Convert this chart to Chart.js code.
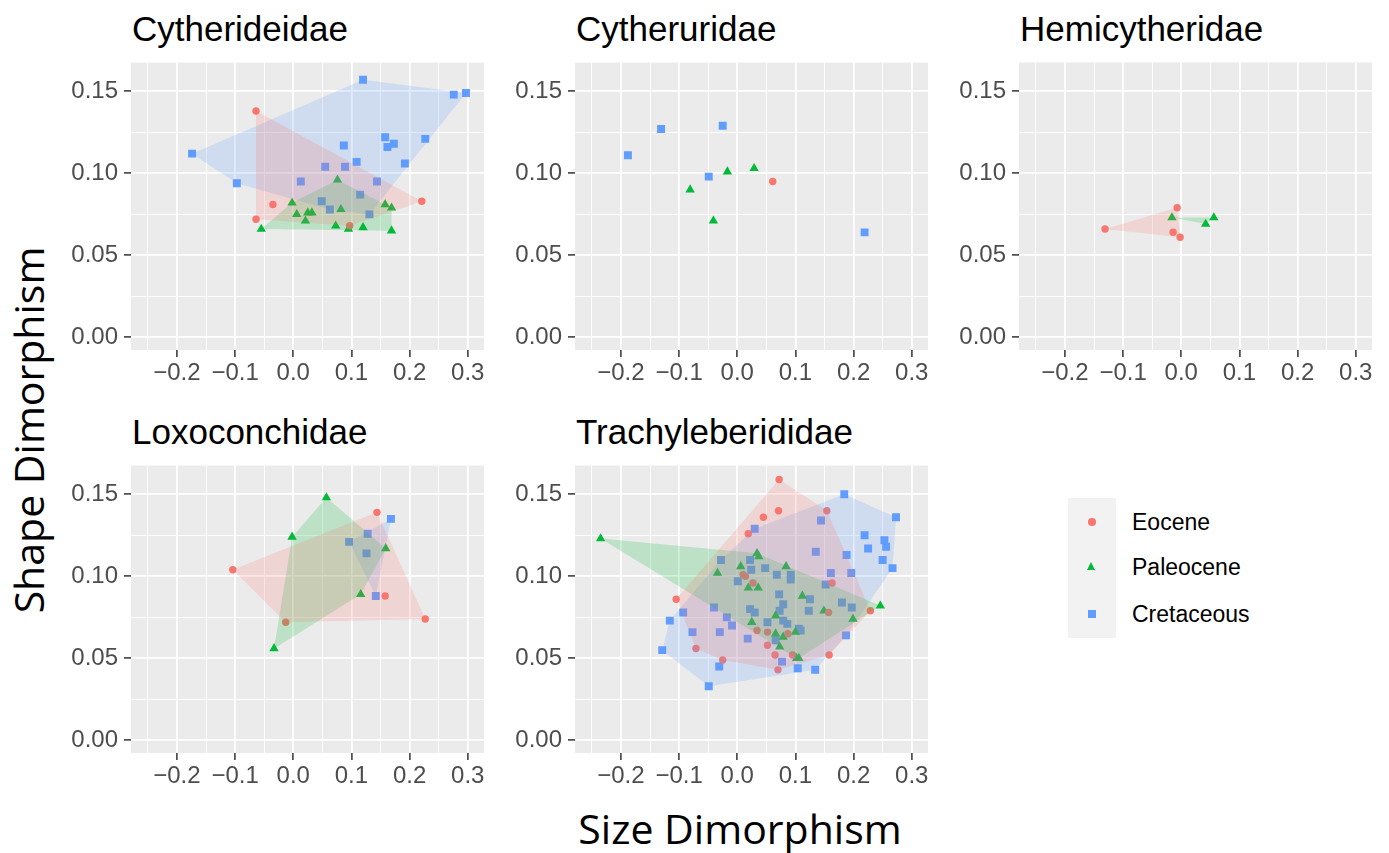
<!DOCTYPE html>
<html>
<head>
<meta charset="utf-8">
<title>Dimorphism by family</title>
<script src="https://cdn.jsdelivr.net/npm/chart.js"></script>
<style>
  body { margin: 0; width: 1389px; height: 853px; overflow: hidden; position: relative; background: #fff;
         font-family: "Liberation Sans", Arial, sans-serif; }
  canvas.panel { position: absolute; }
  .strip { position: absolute; font-size: 35px; line-height: 35px; color: #000; white-space: nowrap; }
  .axis-title { position: absolute; font-family: "Open Sans", "Noto Sans", sans-serif; font-size: 41px;
                line-height: 41px; color: #000; white-space: nowrap; }
  #legend-keys { position: absolute; left: 1068px; top: 498px; width: 48px; height: 140px; background: #F2F2F2; }
  .key { position: absolute; }
  .key-label { position: absolute; left: 1132px; font-size: 23px; line-height: 24px; color: #000; }
</style>
</head>
<body>

<div id="legend-keys"></div>

<script>
// Families (facets) and periods (colour groups)
const families = ["Cytherideidae", "Cytheruridae", "Hemicytheridae", "Loxoconchidae", "Trachyleberididae"];
const periods = ["Eocene", "Paleocene", "Cretaceous"];
const hullFamilies = ["Cytherideidae", "Hemicytheridae", "Loxoconchidae", "Trachyleberididae"];

// axis breaks
const sizeBreaks = [-0.2, -0.1, 0.0, 0.1, 0.2, 0.3];
const sizeMinorBreaks = [-0.25, -0.15, -0.05, 0.05, 0.15, 0.25];
const shapeBreaks = [0.00, 0.05, 0.10, 0.15];
const shapeMinorBreaks = [0.025, 0.075, 0.125];

// [size dimorphism, shape dimorphism]
const cytherideidaeEocene = [[-0.064, 0.138], [-0.035, 0.081], [-0.064, 0.072], [0.221, 0.083], [0.097, 0.068]];
const cytherideidaePaleocene = [[0.076, 0.096], [-0.002, 0.082], [0.006, 0.075], [0.025, 0.076], [0.032, 0.076],
  [0.021, 0.071], [0.082, 0.078], [0.158, 0.081], [0.169, 0.079], [-0.055, 0.066], [0.073, 0.068], [0.095, 0.066],
  [0.120, 0.067], [0.169, 0.065]];
const cytherideidaeCretaceous = [[0.120, 0.157], [0.276, 0.148], [0.297, 0.149], [-0.174, 0.112], [-0.097, 0.094],
  [0.158, 0.122], [0.162, 0.116], [0.173, 0.118], [0.227, 0.121], [0.087, 0.117], [0.192, 0.106], [0.109, 0.107],
  [0.055, 0.104], [0.089, 0.104], [0.013, 0.095], [0.144, 0.095], [0.115, 0.087], [0.049, 0.083], [0.063, 0.078],
  [0.131, 0.075]];

const cytheruridaeEocene = [[0.061, 0.095]];
const cytheruridaePaleocene = [[-0.017, 0.101], [0.029, 0.103], [-0.081, 0.090], [-0.041, 0.071]];
const cytheruridaeCretaceous = [[-0.131, 0.127], [-0.025, 0.129], [-0.188, 0.111], [-0.049, 0.098], [0.219, 0.064]];

const hemicytheridaeEocene = [[-0.131, 0.066], [-0.007, 0.079], [-0.014, 0.064], [-0.002, 0.061]];
const hemicytheridaePaleocene = [[-0.016, 0.073], [0.042, 0.069], [0.056, 0.073]];
const hemicytheridaeCretaceous = [];

const loxoconchidaeEocene = [[0.144, 0.139], [-0.104, 0.104], [0.158, 0.088], [0.227, 0.074], [-0.013, 0.072]];
const loxoconchidaePaleocene = [[0.057, 0.148], [-0.002, 0.124], [0.159, 0.117], [0.116, 0.089], [-0.033, 0.056]];
const loxoconchidaeCretaceous = [[0.168, 0.135], [0.128, 0.126], [0.096, 0.121], [0.126, 0.114], [0.142, 0.088]];

const trachyleberididaeEocene = [[0.072, 0.159], [0.154, 0.140], [0.045, 0.136], [0.071, 0.140], [0.019, 0.126],
  [0.010, 0.101], [0.014, 0.100], [0.027, 0.096], [0.163, 0.096], [-0.105, 0.086], [0.157, 0.078], [0.229, 0.079],
  [0.034, 0.067], [0.052, 0.066], [0.087, 0.065], [0.052, 0.058], [-0.071, 0.056], [-0.025, 0.049], [0.065, 0.052],
  [0.095, 0.052], [0.158, 0.052], [0.070, 0.043]];
const trachyleberididaePaleocene = [[-0.235, 0.123], [0.034, 0.114], [0.037, 0.112], [0.084, 0.106], [0.006, 0.106],
  [-0.034, 0.102], [0.019, 0.093], [0.036, 0.093], [0.112, 0.088], [0.246, 0.082], [0.066, 0.076], [0.149, 0.079],
  [0.199, 0.074], [0.025, 0.072], [0.066, 0.065], [0.079, 0.063], [0.100, 0.066], [0.073, 0.057], [0.102, 0.050],
  [0.106, 0.050]];
const trachyleberididaeCretaceous = [[0.184, 0.150], [0.144, 0.134], [0.273, 0.136], [0.030, 0.129], [0.219, 0.125],
  [0.253, 0.122], [0.256, 0.118], [0.225, 0.117], [0.135, 0.115], [0.188, 0.113], [0.250, 0.110], [0.267, 0.105],
  [-0.028, 0.110], [0.022, 0.110], [0.024, 0.104], [0.048, 0.105], [0.068, 0.101], [0.092, 0.101], [0.092, 0.098],
  [0.161, 0.102], [0.196, 0.102], [0.152, 0.095], [0.001, 0.097], [0.072, 0.089], [0.125, 0.086], [0.079, 0.083],
  [0.180, 0.084], [0.197, 0.081], [0.073, 0.079], [0.123, 0.079], [-0.040, 0.081], [0.022, 0.080], [0.030, 0.078],
  [-0.093, 0.078], [-0.116, 0.073], [-0.018, 0.075], [0.079, 0.073], [0.086, 0.071], [0.052, 0.072], [0.106, 0.068],
  [0.109, 0.067], [-0.009, 0.070], [-0.030, 0.066], [-0.077, 0.066], [0.018, 0.062], [0.187, 0.064], [0.066, 0.061],
  [-0.129, 0.055], [-0.031, 0.045], [0.077, 0.048], [0.104, 0.044], [0.134, 0.043], [-0.049, 0.033]];

const familyData = [
  [cytherideidaeEocene, cytherideidaePaleocene, cytherideidaeCretaceous],
  [cytheruridaeEocene, cytheruridaePaleocene, cytheruridaeCretaceous],
  [hemicytheridaeEocene, hemicytheridaePaleocene, hemicytheridaeCretaceous],
  [loxoconchidaeEocene, loxoconchidaePaleocene, loxoconchidaeCretaceous],
  [trachyleberididaeEocene, trachyleberididaePaleocene, trachyleberididaeCretaceous]
];

// styling
const colours = ["#F8766D", "#00BA38", "#619CFF"];
const hullColours = ["rgba(248,118,109,0.2)", "rgba(0,186,56,0.2)", "rgba(97,156,255,0.2)"];
const pointStyles = ["circle", "triangle", "rect"];
const pointSizes = [3.7, 5.4, 5.6];

const plotLefts = [131, 575, 1019, 131, 575];
const plotTops = [62, 62, 62, 465, 465];
const plotW = 353, plotH = 288;
const yAxisW = 62, xAxisH = 40, padTop = 5, padRight = 10;

function convexHull(pts) {
  const p = pts.map(([x, y]) => ({x, y})).sort((a, b) => a.x - b.x || a.y - b.y);
  if (p.length < 3) return p;
  const cross = (o, a, b) => (a.x - o.x) * (b.y - o.y) - (a.y - o.y) * (b.x - o.x);
  const lower = [], upper = [];
  for (const q of p) {
    while (lower.length >= 2 && cross(lower[lower.length - 2], lower[lower.length - 1], q) <= 0) lower.pop();
    lower.push(q);
  }
  for (const q of p.slice().reverse()) {
    while (upper.length >= 2 && cross(upper[upper.length - 2], upper[upper.length - 1], q) <= 0) upper.pop();
    upper.push(q);
  }
  return lower.slice(0, -1).concat(upper.slice(0, -1));
}

const isIn = (v, list) => list.some(b => Math.abs(b - v) < 1e-9);

const panelBg = {
  id: "panelBg",
  beforeDraw(chart) {
    const {ctx, chartArea: a} = chart;
    ctx.save();
    ctx.fillStyle = "#EBEBEB";
    ctx.fillRect(a.left, a.top, a.right - a.left, a.bottom - a.top);
    ctx.restore();
  }
};

function axisOptions(breaks, minor, min, max, fmt, isX) {
  return {
    type: "linear",
    position: isX ? "bottom" : "left",
    min: min,
    max: max,
    afterBuildTicks: (scale) => {
      scale.ticks = breaks.concat(minor).sort((a, b) => a - b).map(v => ({value: v}));
    },
    afterFit: (scale) => {
      // fixed axis sizes so that every panel lines up
      if (isX) scale.height = xAxisH; else scale.width = yAxisW;
      scale.paddingTop = 0;
      scale.paddingBottom = 0;
      scale.paddingLeft = 0;
      scale.paddingRight = 0;
    },
    border: {display: false},
    grid: {
      color: "#FFFFFF",
      lineWidth: (c) => (c.tick && isIn(c.tick.value, breaks)) ? 1.8 : 0.9,
      tickLength: 7,
      tickWidth: (c) => (c.tick && isIn(c.tick.value, breaks)) ? 1.5 : 0,
      tickColor: (c) => (c.tick && isIn(c.tick.value, breaks)) ? "#333333" : "rgba(0,0,0,0)"
    },
    ticks: {
      autoSkip: false,
      maxRotation: 0,
      padding: isX ? 2 : 6,
      color: "#4D4D4D",
      font: {family: "Liberation Sans", size: 24},
      callback: (value) => isIn(value, breaks) ? fmt(value) : ""
    }
  };
}

const fmtSize = v => (v < -1e-9 ? "\u2212" : "") + Math.abs(v).toFixed(1);
const fmtShape = v => v.toFixed(2);

families.forEach((family, f) => {
  const canvas = document.createElement("canvas");
  canvas.className = "panel";
  canvas.width = yAxisW + plotW + padRight;
  canvas.height = padTop + plotH + xAxisH;
  canvas.style.left = (plotLefts[f] - yAxisW) + "px";
  canvas.style.top = (plotTops[f] - padTop) + "px";
  document.body.appendChild(canvas);

  const title = document.createElement("div");
  title.className = "strip";
  title.textContent = family;
  title.style.left = (plotLefts[f] + 1) + "px";
  title.style.top = (plotTops[f] - 51) + "px";
  document.body.appendChild(title);

  const datasets = [];
  periods.forEach((period, p) => {
    const pts = familyData[f][p];
    if (!pts.length) return;
    datasets.push({
      label: period,
      data: pts.map(([x, y]) => ({x, y})),
      pointStyle: pointStyles[p],
      pointRadius: pointSizes[p],
      backgroundColor: colours[p],
      borderWidth: 0,
      order: 1
    });
    if (hullFamilies.includes(family) && pts.length >= 3) {
      datasets.push({
        label: period + " hull",
        data: convexHull(pts),
        showLine: true,
        fill: "shape",
        backgroundColor: hullColours[p],
        borderColor: "rgba(0,0,0,0)",
        borderWidth: 0,
        pointRadius: 0,
        tension: 0,
        order: 0
      });
    }
  });

  new Chart(canvas, {
    type: "scatter",
    data: {datasets},
    options: {
      responsive: false,
      animation: false,
      events: [],
      layout: {padding: {top: padTop, right: padRight, left: 0, bottom: 0}},
      plugins: {legend: {display: false}, tooltip: {enabled: false}},
      scales: {
        x: axisOptions(sizeBreaks, sizeMinorBreaks, -0.279, 0.328, fmtSize, true),
        y: axisOptions(shapeBreaks, shapeMinorBreaks, -0.0077, 0.1675, fmtShape, false)
      }
    },
    plugins: [panelBg]
  });
});

// legend
const legendY = [522, 567, 614];
periods.forEach((period, p) => {
  const key = document.createElement("div");
  key.className = "key";
  const cx = 1092, cy = legendY[p];
  if (p === 0) {
    Object.assign(key.style, {left: (cx - 3.7) + "px", top: (cy - 3.7) + "px", width: "7.4px", height: "7.4px",
      borderRadius: "50%", background: colours[p]});
  } else if (p === 1) {
    Object.assign(key.style, {left: (cx - 4.7) + "px", top: (cy - 5.4) + "px", width: 0, height: 0,
      borderLeft: "4.7px solid transparent", borderRight: "4.7px solid transparent",
      borderBottom: "8.1px solid " + colours[p]});
  } else {
    Object.assign(key.style, {left: (cx - 4) + "px", top: (cy - 4) + "px", width: "8px", height: "8px",
      background: colours[p]});
  }
  document.body.appendChild(key);

  const lab = document.createElement("div");
  lab.className = "key-label";
  lab.textContent = period;
  lab.style.top = (cy - 12) + "px";
  document.body.appendChild(lab);
});
</script>

<div class="axis-title" style="left:740px; top:808px; transform:translateX(-50%);">Size Dimorphism</div>
<div class="axis-title" style="left:28px; top:430px; transform:translate(-50%,-50%) rotate(-90deg);">Shape Dimorphism</div>

</body>
</html>
